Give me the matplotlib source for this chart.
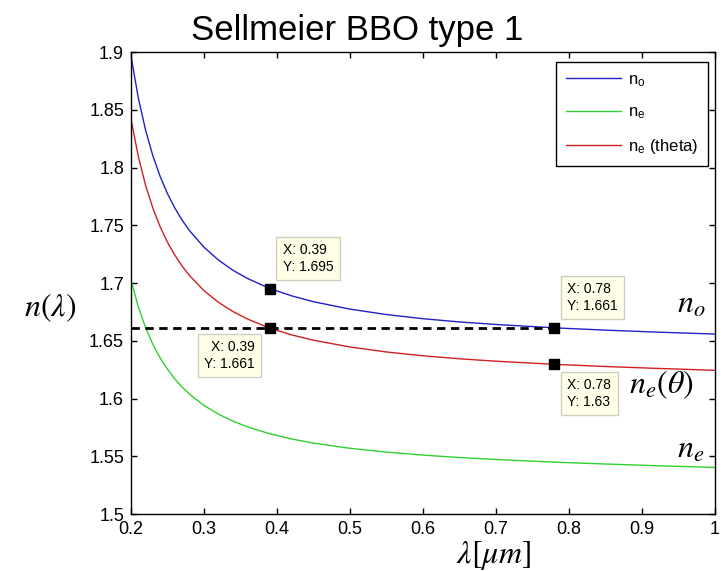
import matplotlib
matplotlib.use("Agg")
import matplotlib.pyplot as plt

plt.rcParams['font.family'] = ['Liberation Sans', 'DejaVu Sans']
plt.rcParams['mathtext.fontset'] = 'stix'

# values (wavelength in um)
wavelength = [0.20, 0.21, 0.22, 0.23, 0.24, 0.25, 0.26, 0.27, 0.28, 0.30, 0.32, 0.34, 0.36,
              0.39, 0.42, 0.45, 0.50, 0.55, 0.60, 0.65, 0.70, 0.78, 0.85, 0.92, 1.00]
n_o = [1.8967, 1.8604, 1.8324, 1.8102, 1.7922, 1.7774, 1.7650, 1.7545, 1.7455, 1.7310, 1.7198,
       1.7109, 1.7038, 1.6953, 1.6889, 1.6838, 1.6774, 1.6727, 1.6691, 1.6663, 1.6641, 1.6612,
       1.6592, 1.6575, 1.6558]
n_e = [1.7027, 1.6795, 1.6614, 1.6469, 1.6351, 1.6253, 1.6170, 1.6099, 1.6039, 1.5940, 1.5864,
       1.5803, 1.5754, 1.5695, 1.5650, 1.5614, 1.5569, 1.5536, 1.5510, 1.5489, 1.5472, 1.5449,
       1.5433, 1.5418, 1.5403]
n_e_theta = [1.8420, 1.8097, 1.7846, 1.7648, 1.7487, 1.7353, 1.7242, 1.7147, 1.7066, 1.6934,
             1.6832, 1.6752, 1.6687, 1.6610, 1.6551, 1.6505, 1.6446, 1.6403, 1.6370, 1.6344,
             1.6323, 1.6296, 1.6277, 1.6261, 1.6244]

# data tips
tip_x = [0.39, 0.39, 0.78, 0.78]
tip_y = [1.695, 1.661, 1.661, 1.63]
tip_txt = ["X: 0.39\nY: 1.695", "X: 0.39\nY: 1.661", "X: 0.78\nY: 1.661", "X: 0.78\nY: 1.63"]
# where each box sits relative to its marker (points) and its anchor
tip_off = [(9.4, 10.8, 'left', 'bottom'), (-10.8, -8.6, 'right', 'top'),
           (9.4, 10.8, 'left', 'bottom'), (9.4, -10.0, 'left', 'top')]

fig = plt.figure(figsize=(7.26, 5.71), dpi=100)
ax = fig.add_axes([0.1804, 0.0998, 0.8044, 0.8091])

ax.plot(wavelength, n_o, color='#2020c8', lw=1.0, label=r'n$_\mathregular{o}$')
ax.plot(wavelength, n_e, color='#30d030', lw=1.0, label=r'n$_\mathregular{e}$')
ax.plot(wavelength, n_e_theta, color='#d02020', lw=1.0, label=r'n$_\mathregular{e}$ (theta)')

# phase matching line
ax.plot([0.2, tip_x[2]], [tip_y[1], tip_y[2]], color='k', lw=2, dashes=(3, 2), zorder=4)
ax.plot(tip_x, tip_y, 's', color='k', ms=7.5, zorder=5)

for x, y, t, (dx, dy, ha, va) in zip(tip_x, tip_y, tip_txt, tip_off):
    ax.annotate(t, xy=(x, y), xytext=(dx, dy), textcoords='offset points', ha=ha, va=va,
                fontsize=10, linespacing=1.25, zorder=6,
                bbox=dict(boxstyle='square,pad=0.45', fc='#ffffe8', ec='#cfcfc0', lw=1))

ax.set_xlim(0.2, 1.0)
ax.set_ylim(1.5, 1.9)
ax.set_xticks([0.2, 0.3, 0.4, 0.5, 0.6, 0.7, 0.8, 0.9, 1.0])
ax.set_xticklabels(['0.2', '0.3', '0.4', '0.5', '0.6', '0.7', '0.8', '0.9', '1'])
ax.set_yticks([1.5, 1.55, 1.6, 1.65, 1.7, 1.75, 1.8, 1.85, 1.9])
ax.set_yticklabels(['1.5', '1.55', '1.6', '1.65', '1.7', '1.75', '1.8', '1.85', '1.9'])
ax.tick_params(direction='in', length=4, width=1, top=True, right=True, labelsize=13, pad=5)
for s in ax.spines.values():
    s.set_linewidth(1.0)

leg = ax.legend(loc='upper left', bbox_to_anchor=(0.728, 0.978), fontsize=12,
                handlelength=3.3, handletextpad=0.4, labelspacing=0.95, borderpad=0.6,
                fancybox=False, framealpha=1, edgecolor='k', borderaxespad=0)
leg.get_frame().set_linewidth(1.0)

# curve labels on the right
ax.text(0.948, 1.674, r'$n_o$', fontsize=23, ha='left', va='baseline')
ax.text(0.882, 1.605, r'$n_e(\theta)$', fontsize=23, ha='left', va='baseline')
ax.text(0.948, 1.549, r'$n_e$', fontsize=23, ha='left', va='baseline')

fig.text(0.4917, 0.930, 'Sellmeier BBO type 1', fontsize=25, ha='center', va='baseline')
fig.text(0.069, 0.4606, r'$n(\lambda)$', fontsize=23, ha='center', va='center')
fig.text(0.680, 0.027, r'$\lambda[\mu m]$', fontsize=23, ha='center', va='center')

fig.savefig('out.png', dpi=100)
